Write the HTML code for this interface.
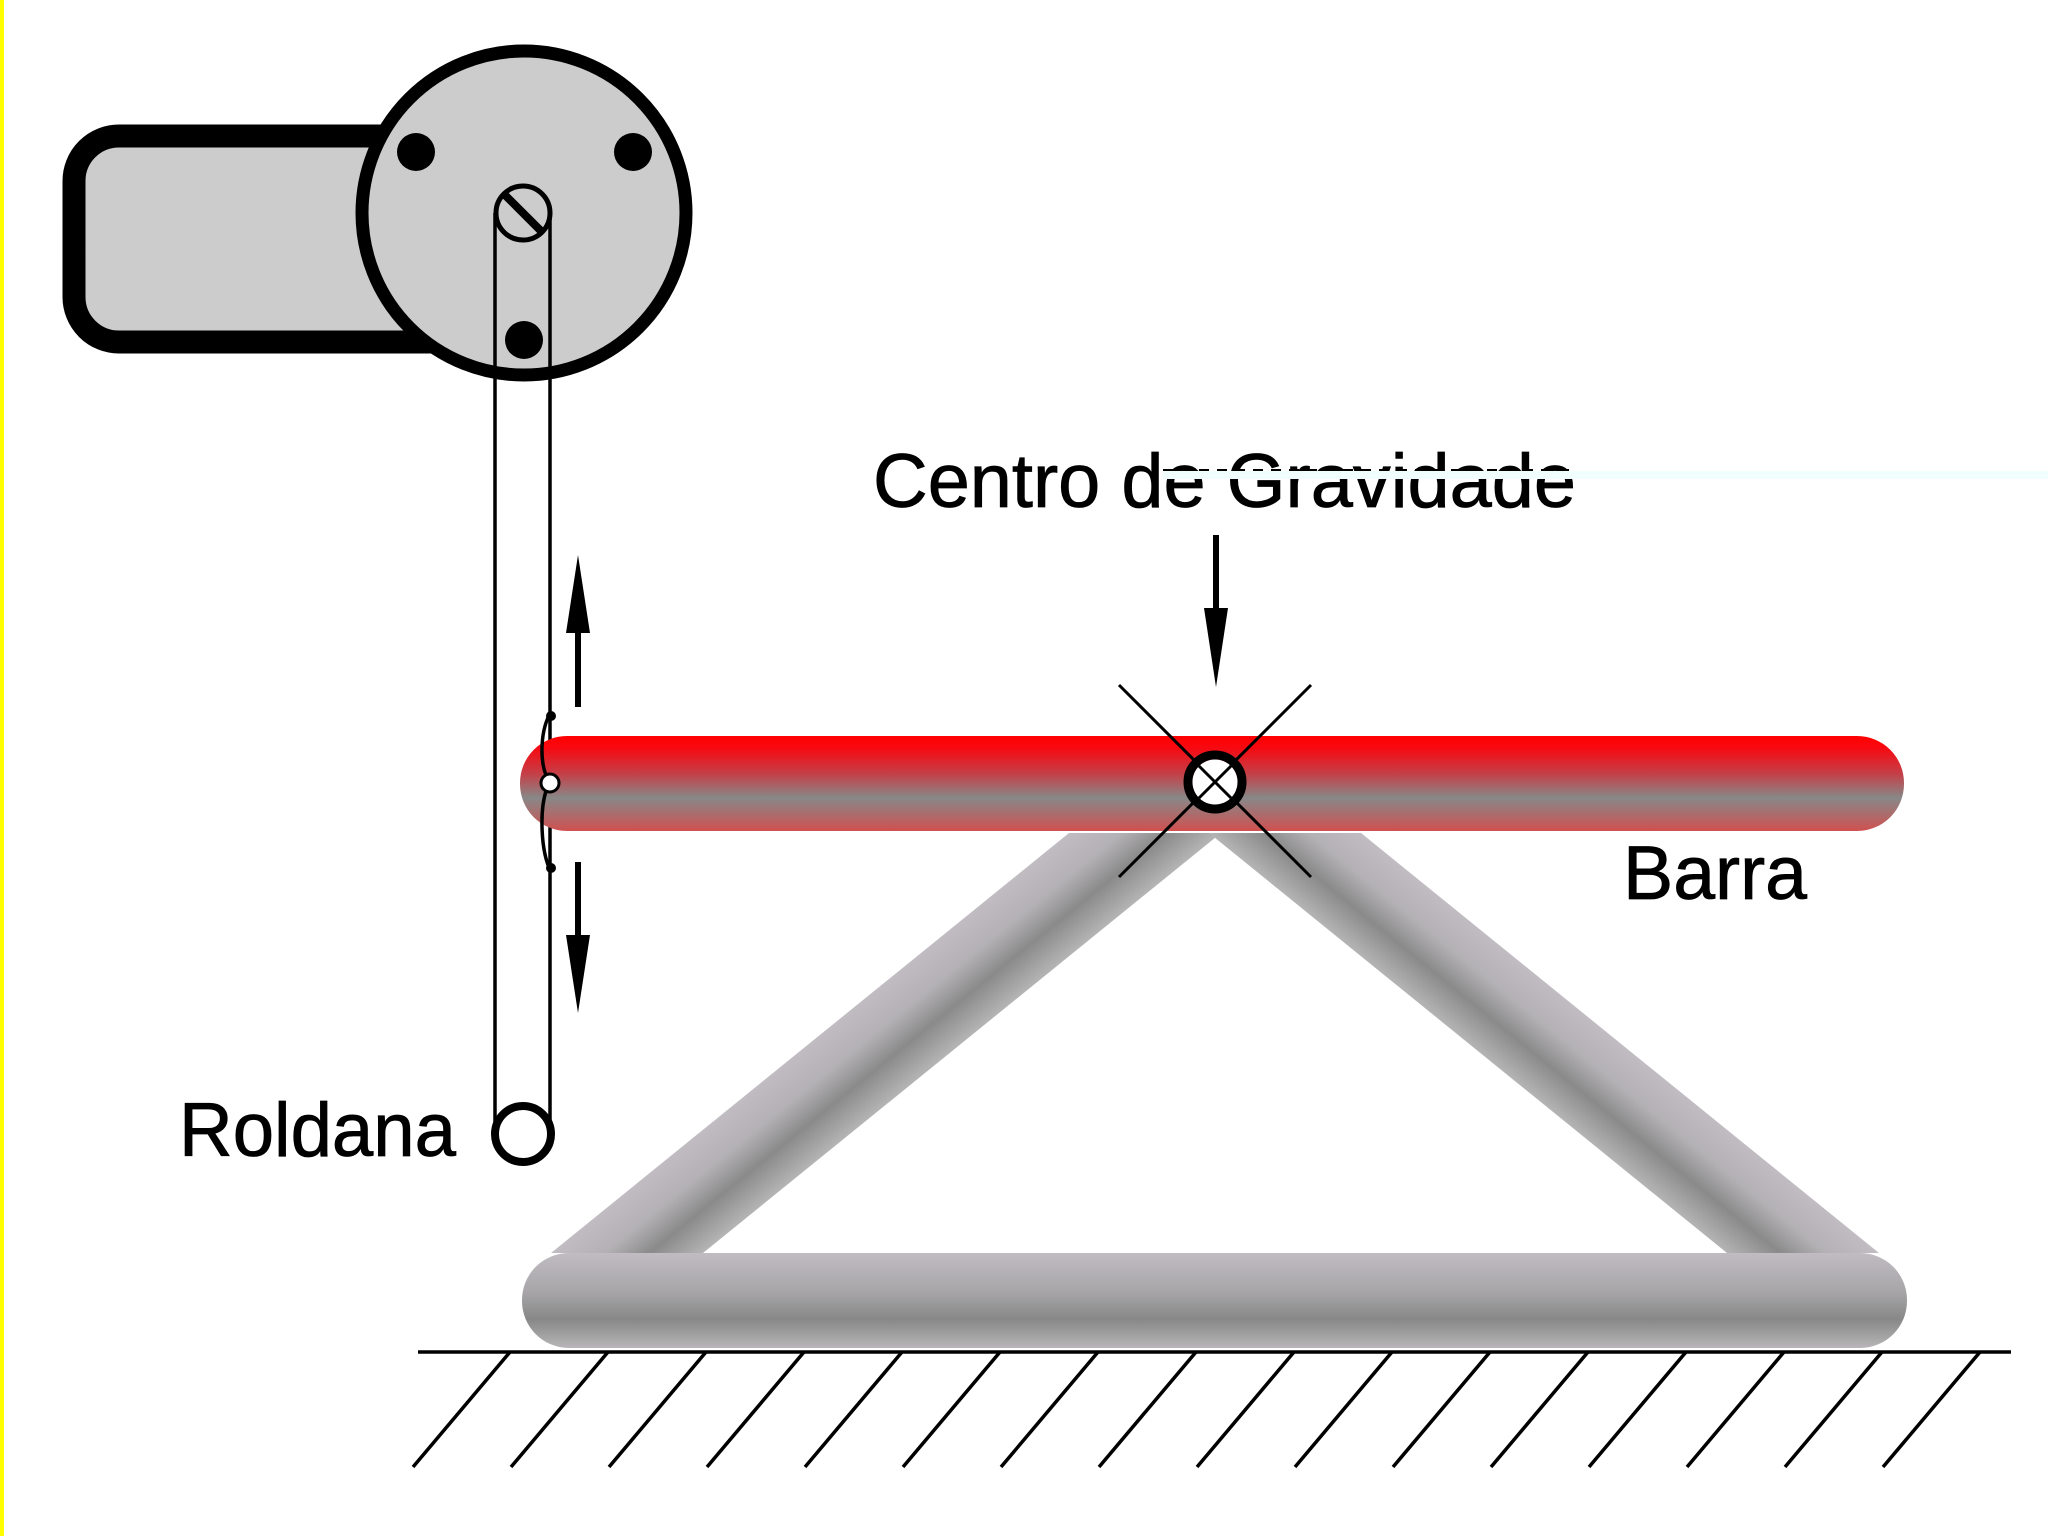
<!DOCTYPE html>
<html><head><meta charset="utf-8"><style>html,body{margin:0;padding:0;background:#fff}svg{display:block}</style></head>
<body>
<svg width="2048" height="1536" viewBox="0 0 2048 1536" xmlns="http://www.w3.org/2000/svg">
<defs>
<linearGradient id="red" x1="0" y1="0" x2="0" y2="1">
<stop offset="0" stop-color="#ff0000"/><stop offset="0.12" stop-color="#f80810"/><stop offset="0.4" stop-color="#c44048"/><stop offset="0.65" stop-color="#888888"/><stop offset="1" stop-color="#d05050"/>
</linearGradient>
<linearGradient id="base" x1="0" y1="0" x2="0" y2="1">
<stop offset="0" stop-color="#c0bcc2"/><stop offset="0.4" stop-color="#a8a6a9"/><stop offset="0.7" stop-color="#888888"/><stop offset="1" stop-color="#b8b6b8"/>
</linearGradient>
<linearGradient id="sl" gradientUnits="userSpaceOnUse" x1="856" y1="1006" x2="916" y2="1080">
<stop offset="0" stop-color="#c0bcc2"/><stop offset="0.35" stop-color="#b4b1b5"/><stop offset="0.65" stop-color="#8a8a8a"/><stop offset="1" stop-color="#b4b4b4"/>
</linearGradient>
<linearGradient id="sr" gradientUnits="userSpaceOnUse" x1="1574" y1="1006" x2="1514" y2="1080">
<stop offset="0" stop-color="#c0bcc2"/><stop offset="0.35" stop-color="#b4b1b5"/><stop offset="0.65" stop-color="#8a8a8a"/><stop offset="1" stop-color="#b4b4b4"/>
</linearGradient>
</defs>
<rect x="0" y="0" width="4" height="1536" fill="#ffff00"/>
<!-- motor -->
<rect x="74" y="136" width="420" height="206" rx="45" fill="#cccccc" stroke="#000" stroke-width="23"/>
<circle cx="524" cy="213" r="162" fill="#cccccc" stroke="#000" stroke-width="13"/>
<circle cx="416" cy="152" r="19"/><circle cx="633" cy="152" r="19"/><circle cx="524" cy="340" r="19"/>
<line x1="495" y1="213" x2="495" y2="1134" stroke="#000" stroke-width="3.5"/>
<line x1="550" y1="213" x2="550" y2="1134" stroke="#000" stroke-width="3.5"/>
<circle cx="523" cy="213" r="27" fill="#cccccc" stroke="#000" stroke-width="5"/>
<line x1="505" y1="195" x2="541" y2="231" stroke="#000" stroke-width="8"/>
<!-- pulley -->
<circle cx="523" cy="1134" r="28" fill="#fff" stroke="#000" stroke-width="8"/>
<text x="179" y="1156" font-family="Liberation Sans, sans-serif" font-size="76" textLength="277" lengthAdjust="spacingAndGlyphs" stroke="#000" stroke-width="0.8">Roldana</text>
<!-- struts -->
<polygon points="551,1253 703,1253 1221,833 1069,833" fill="url(#sl)"/>
<polygon points="1879,1253 1727,1253 1209,833 1361,833" fill="url(#sr)"/>
<rect x="522" y="1253" width="1385" height="95" rx="47" fill="url(#base)"/>
<!-- ground -->
<line x1="418" y1="1352" x2="2011" y2="1352" stroke="#000" stroke-width="3.5"/>
<g stroke="#000" stroke-width="3.5">
<line x1="413" y1="1467" x2="510" y2="1352"/><line x1="511" y1="1467" x2="608" y2="1352"/><line x1="609" y1="1467" x2="706" y2="1352"/><line x1="707" y1="1467" x2="804" y2="1352"/><line x1="805" y1="1467" x2="902" y2="1352"/><line x1="903" y1="1467" x2="1000" y2="1352"/><line x1="1001" y1="1467" x2="1098" y2="1352"/><line x1="1099" y1="1467" x2="1196" y2="1352"/><line x1="1197" y1="1467" x2="1294" y2="1352"/><line x1="1295" y1="1467" x2="1392" y2="1352"/><line x1="1393" y1="1467" x2="1490" y2="1352"/><line x1="1491" y1="1467" x2="1588" y2="1352"/><line x1="1589" y1="1467" x2="1686" y2="1352"/><line x1="1687" y1="1467" x2="1784" y2="1352"/><line x1="1785" y1="1467" x2="1882" y2="1352"/><line x1="1883" y1="1467" x2="1980" y2="1352"/>
</g>
<!-- red bar -->
<rect x="520" y="736" width="1384" height="95" rx="47" fill="url(#red)"/>
<!-- hook -->
<path d="M551,712 C540,730 540,760 546,775 M546,791 C540,810 540,850 551,872" fill="none" stroke="#000" stroke-width="3.5"/>
<circle cx="551" cy="716" r="5"/><circle cx="551" cy="868" r="5"/>
<circle cx="550" cy="783" r="9" fill="#fff" stroke="#000" stroke-width="3"/>
<!-- arrows -->
<line x1="578" y1="620" x2="578" y2="707" stroke="#000" stroke-width="6"/>
<polygon points="578,555 566,633 590,633"/>
<line x1="578" y1="862" x2="578" y2="940" stroke="#000" stroke-width="6"/>
<polygon points="578,1013 566,935 590,935"/>
<!-- CG -->
<line x1="1119" y1="685" x2="1311" y2="877" stroke="#000" stroke-width="3"/>
<line x1="1311" y1="685" x2="1119" y2="877" stroke="#000" stroke-width="3"/>
<circle cx="1215" cy="782" r="27" fill="none" stroke="#000" stroke-width="9"/>
<circle cx="1215" cy="782" r="22.5" fill="#fff"/>
<line x1="1199" y1="766" x2="1231" y2="798" stroke="#000" stroke-width="3"/>
<line x1="1231" y1="766" x2="1199" y2="798" stroke="#000" stroke-width="3"/>
<line x1="1216" y1="535" x2="1216" y2="612" stroke="#000" stroke-width="6"/>
<polygon points="1216,687 1204,608 1228,608"/>
<text x="873" y="507" font-family="Liberation Sans, sans-serif" font-size="76" textLength="703" lengthAdjust="spacingAndGlyphs" stroke="#000" stroke-width="0.8">Centro de Gravidade</text>
<rect x="1163" y="471" width="885" height="8" fill="#f0fffe"/>
<line x1="1163" y1="470" x2="1575" y2="470" stroke="#000" stroke-width="2" stroke-dasharray="10,8"/>
<text x="1623" y="899" font-family="Liberation Sans, sans-serif" font-size="76" textLength="184" lengthAdjust="spacingAndGlyphs" stroke="#000" stroke-width="0.8">Barra</text>
</svg>
</body></html>
